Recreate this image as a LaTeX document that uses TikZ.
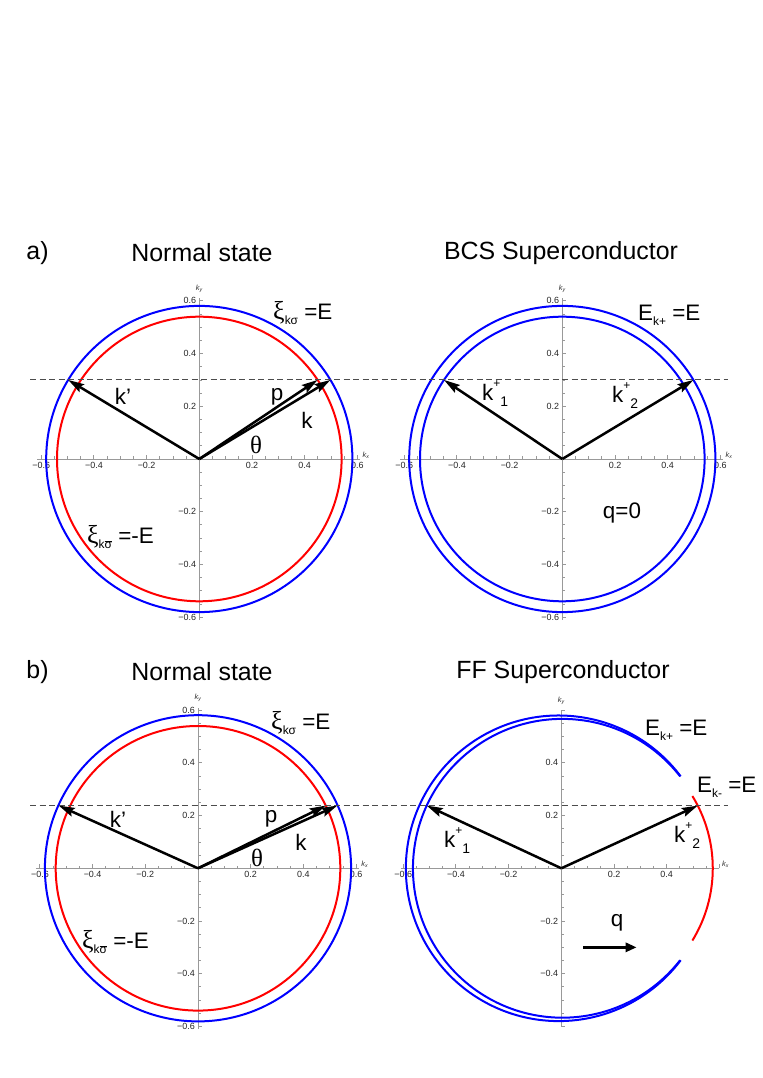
\documentclass[tikz,border=0pt]{standalone}
\usepackage{fontspec}
\setmainfont{Liberation Sans}
\newfontfamily\serifgr{Liberation Serif}
\usetikzlibrary{arrows.meta}
\tikzset{
  axisline/.style={draw=black!40, line width=0.8bp},
  ticklab/.style={font=\fontsize{9}{9}\selectfont, text=black!85, inner sep=0.5bp},
  axlab/.style={font=\fontsize{7.5}{7.5}\selectfont\itshape, text=black!80, inner sep=0.5bp},
  curve/.style={line width=2bp},
  vec/.style={line width=2.5bp, -{Stealth[length=16bp,width=9bp,inset=2.5bp]}},
  qvec/.style={line width=2.8bp, -{Triangle[length=11bp,width=9bp]}},
  title/.style={font=\fontsize{25}{30}\selectfont, inner sep=0},
  lab/.style={font=\fontsize{22.5}{25}\selectfont, inner sep=0},
}
\tikzset{guide/.style={draw=black!70, line width=1bp, dash pattern=on 6bp off 3.5bp}}
\newcommand\xisym{{\fontsize{26}{26}\selectfont\serifgr ξ}}
\newcommand\subtxt[1]{\raisebox{-0.45ex}{\fontsize{12}{12}\selectfont #1}}
\newcommand\kplus[1]{k\raisebox{1.05ex}{\fontsize{12}{12}\selectfont +}\raisebox{-0.55ex}{\fontsize{14}{14}\selectfont #1}}
% #1 name, #2 xmin, #3 xmax, #4 ymin, #5 ymax, #6 x labels, #7 y labels
\newcommand\myaxes[7]{%
  \draw[axisline] (#2,0) -- (#3,0);
  \draw[axisline] (0,#4) -- (0,#5);
  \foreach \i in {-12,...,-1,1,2,...,12} {
    \pgfmathsetmacro\tv{\i*0.05}
    \pgfmathtruncatemacro\ismaj{mod(abs(\i),4)==0 ? 1 : 0}
    \ifnum\ismaj=1
      \draw[axisline] (\tv,0) -- ++(0,4bp);
      \draw[axisline] (0,\tv) -- ++(4bp,0);
    \else
      \draw[axisline] (\tv,0) -- ++(0,2.5bp);
      \draw[axisline] (0,\tv) -- ++(2.5bp,0);
    \fi
  }
  \foreach \v/\s [count=\n] in {#6} {
    \node[ticklab, anchor=north] (#1x\n) at ([yshift=-2.5bp]\v,0) {\s};
  }
  \foreach \v/\s [count=\n] in {#7} {
    \node[ticklab, anchor=east] (#1y\n) at ([xshift=-2.5bp]0,\v) {\s};
  }
  \node[axlab, anchor=south west] (#1kx) at ([xshift=2bp]#3,0) {k\textsubscript{x}};
  \node[axlab, anchor=south] (#1ky) at ([yshift=5bp]0,#5) {k\textsubscript{y}};
}
\begin{document}
\begin{tikzpicture}[x=1bp,y=1bp]
\useasboundingbox (0,0) rectangle (763,1078);

% titles
\node[title] (ta) at (37.5,825) {a)};
\node[title] (tan) at (202,825) {Normal state};
\node[title] (tab) at (561,825) {BCS Superconductor};
\node[title] (tb) at (37.5,406) {b)};
\node[title] (tbn) at (202,406) {Normal state};
\node[title] (tbf) at (563,406) {FF Superconductor};

% dashed guide lines
\coordinate (gA1) at (30,698.3);
\coordinate (gA2) at (728,698.3);
\coordinate (gB1) at (30,272.3);
\coordinate (gB2) at (728,272.3);

% ---------------- Top left ----------------
\begin{scope}[shift={(199.3,619)}, x=263.5bp, y=263.5bp]
  \myaxes{tl}{-0.615}{0.61}{-0.61}{0.61}%
    {-0.6/{−0.6},-0.4/{−0.4},-0.2/{−0.2},0.2/0.2,0.4/0.4,0.6/0.6}%
    {-0.6/{−0.6},-0.4/{−0.4},-0.2/{−0.2},0.2/0.2,0.4/0.4,0.6/0.6}
  \draw[curve, red] (0,0) circle[radius=142.3bp];
  \draw[curve, blue] (0,0) circle[radius=153.1bp];
  \coordinate (tlO) at (0,0);
  \coordinate (tlKp) at (-0.4977,0.3);
  \coordinate (tlP) at (0.449,0.3);
  \coordinate (tlK) at (0.4977,0.3);
  \draw[vec] (tlO) -- (tlKp);
  \draw[vec] (tlO) -- (tlP);
  \draw[vec] (tlO) -- (tlK);
\end{scope}
\node[lab, anchor=west] (tlxi) at (273,765) {\xisym\subtxt{kσ} =E};
\node[lab] (tlkp) at (123,682) {k’};
\node[lab] (tlp) at (277,681) {p};
\node[lab] (tlk) at (307,658) {k};
\node[lab, font=\fontsize{25}{27}\selectfont\serifgr] (tlth) at (256,633) {θ};
\node[lab, anchor=west] (tlxib) at (87,541) {\xisym\subtxt{k$\overline{\hbox{σ}}$} =-E};

% ---------------- Top right ----------------
\begin{scope}[shift={(562.3,619)}, x=263.5bp, y=263.5bp]
  \myaxes{tr}{-0.615}{0.61}{-0.61}{0.61}%
    {-0.6/{−0.6},-0.4/{−0.4},-0.2/{−0.2},0.2/0.2,0.4/0.4,0.6/0.6}%
    {-0.6/{−0.6},-0.4/{−0.4},-0.2/{−0.2},0.2/0.2,0.4/0.4,0.6/0.6}
  \draw[curve, blue] (0,0) circle[radius=142.3bp];
  \draw[curve, blue] (0,0) circle[radius=153.1bp];
  \coordinate (trO) at (0,0);
  \coordinate (trK1) at (-0.449,0.3);
  \coordinate (trK2) at (0.4977,0.3);
  \draw[vec] (trO) -- (trK1);
  \draw[vec] (trO) -- (trK2);
\end{scope}
\node[lab, anchor=west] (trE) at (638,763) {E\subtxt{k+} =E};
\node[lab, anchor=west] (trk1) at (482,684) {\kplus{1}};
\node[lab, anchor=west] (trk2) at (612,682) {\kplus{2}};
\node[lab] (trq) at (622,565) {q=0};

% ---------------- Bottom left ----------------
\begin{scope}[shift={(198,209.7)}, x=263.5bp, y=263.5bp]
  \myaxes{bl}{-0.615}{0.61}{-0.61}{0.61}%
    {-0.6/{−0.6},-0.4/{−0.4},-0.2/{−0.2},0.2/0.2,0.4/0.4,0.6/0.6}%
    {-0.6/{−0.6},-0.4/{−0.4},-0.2/{−0.2},0.2/0.2,0.4/0.4,0.6/0.6}
  \draw[curve, red] (0,0) circle[radius=142.3bp];
  \draw[curve, blue] (0,0) circle[radius=153.1bp];
  \coordinate (blO) at (0,0);
  \coordinate (blKp) at (-0.5288,0.238);
  \coordinate (blP) at (0.4848,0.238);
  \coordinate (blK) at (0.5288,0.238);
  \draw[vec] (blO) -- (blKp);
  \draw[vec] (blO) -- (blP);
  \draw[vec] (blO) -- (blK);
\end{scope}
\node[lab, anchor=west] (blxi) at (271,355) {\xisym\subtxt{kσ} =E};
\node[lab] (blkp) at (118,259) {k’};
\node[lab] (blp) at (271,259) {p};
\node[lab] (blk) at (301,236) {k};
\node[lab, font=\fontsize{25}{27}\selectfont\serifgr] (blth) at (257,220) {θ};
\node[lab, anchor=west] (blxib) at (82,136) {\xisym\subtxt{k$\overline{\hbox{σ}}$} =-E};

% ---------------- Bottom right ----------------
\begin{scope}[shift={(561.3,209.7)}, x=263.5bp, y=263.5bp]
  \myaxes{br}{-0.61}{0.6}{-0.60}{0.60}%
    {-0.6/{−0.6},-0.4/{−0.4},-0.2/{−0.2},0.2/0.2,0.4/0.4}%
    {-0.4/{−0.4},-0.2/{−0.2},0.2/0.2,0.4/0.4}
  % outer blue arc, centre (-0.01,0), r 0.58
  \draw[curve, blue] ([shift={(37:152.8bp)}]-0.01,0) arc[start angle=37, end angle=323, radius=152.8bp];
  % inner blue arc, centre (0.004,0), r 0.567
  \draw[curve, blue] ([shift={(38:149.4bp)}]0.004,0) arc[start angle=38, end angle=322, radius=149.4bp];
  % red arc, centre (0.05,0), r 0.525
  \draw[curve, red] ([shift={(-31.5:138.3bp)}]0.05,0) arc[start angle=-31.5, end angle=31.5, radius=138.3bp];
  \coordinate (brO) at (0,0);
  \coordinate (brK1) at (-0.511,0.238);
  \coordinate (brK2) at (0.518,0.238);
  \draw[vec] (brO) -- (brK1);
  \draw[vec] (brO) -- (brK2);
  \coordinate (brQa) at (0.084,-0.30);
  \coordinate (brQb) at (0.286,-0.30);
  \draw[qvec] (brQa) -- (brQb);
\end{scope}
\node[lab, anchor=west] (brEp) at (645,348) {E\subtxt{k+} =E};
\node[lab, anchor=west] (brEm) at (697,291) {E\subtxt{k-} =E};
\node[lab, anchor=west] (brk1) at (444,237) {\kplus{1}};
\node[lab, anchor=west] (brk2) at (674,242) {\kplus{2}};
\node[lab] (brq) at (617,155) {q};

\draw[guide] (gA1) -- (gA2);
\draw[guide] (gB1) -- (gB2);
\end{tikzpicture}
\end{document}
